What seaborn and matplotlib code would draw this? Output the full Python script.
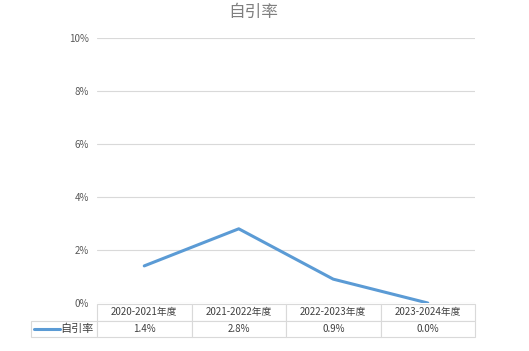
import matplotlib
matplotlib.use("Agg")
import matplotlib.pyplot as plt
import seaborn as sns
import pandas as pd
from matplotlib.lines import Line2D
from matplotlib.ticker import FuncFormatter

categories = ["2020-2021年度", "2021-2022年度", "2022-2023年度", "2023-2024年度"]
values = [1.4, 2.8, 0.9, 0.0]
series_name = "自引率"
yticks = [0, 2, 4, 6, 8, 10]

sns.set_theme(style="white")
plt.rcParams["font.family"] = ["Noto Sans CJK SC", "DejaVu Sans"]

W, H = 529, 351
fig = plt.figure(figsize=(W / 100, H / 100), dpi=100)
ax = fig.add_axes([97 / W, 1 - 303 / H, (475 - 97) / W, (303 - 38) / H])

df = pd.DataFrame({"x": range(len(categories)), "v": values})
color = "#5B9BD5"
sns.lineplot(data=df, x="x", y="v", ax=ax, color=color, linewidth=2.2)

ax.set_xlim(-0.5, len(categories) - 0.5)
ax.set_ylim(0, 10)
ax.set_yticks(yticks)
ax.yaxis.set_major_formatter(FuncFormatter(lambda v, p: f"{v:.0f}%"))
ax.set_xticks([])
ax.set_xlabel("")
ax.set_ylabel("")
ax.grid(axis="y", color="#D9D9D9", linewidth=0.8)
for s in ax.spines.values():
    s.set_visible(False)
ax.tick_params(axis="y", length=0, labelsize=7, labelcolor="#595959", pad=6)

fig.text(253 / W, 1 - 12 / H, series_name, ha="center", va="center",
         fontsize=12, color="#7F7F7F")

# data table
aw = 475 - 97
ah = 303 - 38
x0 = (31 - 97) / aw
tw = (475 - 31) / aw
y_top = (303 - 304) / ah
y_bot = (303 - 337) / ah
first_w = 66
col_w = (475 - 97) / len(categories)
colWidths = [first_w / 444] + [col_w / 444] * len(categories)
cell_text = [[""] + categories,
             [series_name] + [f"{v:.1f}%" for v in values]]
tbl = ax.table(cellText=cell_text, colWidths=colWidths, cellLoc="center",
               bbox=[x0, y_bot, tw, y_top - y_bot])
tbl.auto_set_font_size(False)
for (r, c), cell in tbl.get_celld().items():
    cell.set_edgecolor("#D9D9D9")
    cell.set_linewidth(0.8)
    cell.get_text().set_fontsize(7)
    cell.get_text().set_color("#404040")
    if r == 0 and c == 0:
        cell.visible_edges = ""
    if r == 1 and c == 0:
        cell.get_text().set_ha("right")
        cell._loc = "right"
        cell.PAD = 0.05
        cell.get_text().set_fontsize(8)

# legend key line in table
ly = 1 - 328.5 / H
fig.add_artist(Line2D([34 / W, 60 / W], [ly, ly], color=color, linewidth=2.2,
                      transform=fig.transFigure))

fig.savefig("out.png", dpi=100)
